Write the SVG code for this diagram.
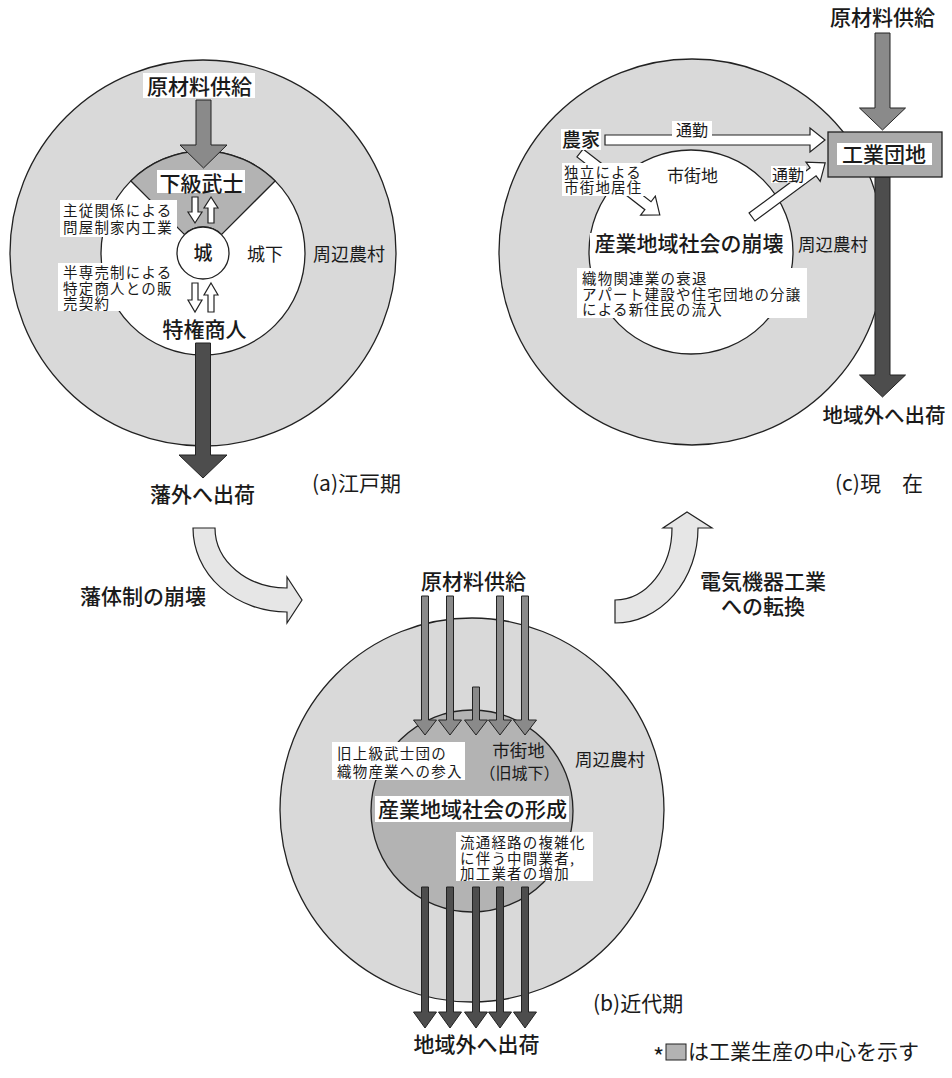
<svg xmlns="http://www.w3.org/2000/svg" width="952" height="1078" viewBox="0 0 952 1078">
<style>
.ring{fill:#d9d9d9;stroke:#222;stroke-width:1.3}
.wc{fill:#fff;stroke:#222;stroke-width:1.3}
.core{fill:#b3b3b3;stroke:#222;stroke-width:1.3}
.in{fill:#8a8a8a;stroke:#222;stroke-width:1}
.out{fill:#4d4d4d;stroke:#222;stroke-width:1}
.hollow{fill:#fff;stroke:#222;stroke-width:1.2}
.curve{fill:#e6e6e6;stroke:#222;stroke-width:1.2}
.bg{fill:#fff}
text{font-family:"Noto Sans CJK JP","Noto Sans",sans-serif;fill:#1a1a1a}
.b{font-weight:500;font-size:21px}
.s{font-size:14.5px;letter-spacing:1.2px}
.m{font-size:18px}
.c{text-anchor:middle}
</style>
<rect width="952" height="1078" fill="#fff"/>

<!-- Panel (a) -->
<g id="a-rural">
  <circle class="ring" cx="203" cy="253" r="193"/>
</g>
<g id="a-town">
  <circle class="wc" cx="203" cy="253" r="102"/>
</g>
<g id="a-samurai">
  <path class="core" d="M184.6,234.6 L130.9,180.9 A102,102 0 0 1 275.1,180.9 L221.4,234.6 A26,26 0 0 0 184.6,234.6 Z"/>
</g>
<g id="a-castle">
  <circle class="wc" cx="203" cy="253" r="26"/>
  <text class="c" x="203" y="260" style="font-size:19px;font-weight:500">城</text>
</g>

<!-- Panel (c) -->
<g id="c-rural">
  <circle class="ring" cx="692" cy="252" r="193"/>
</g>
<g id="c-town">
  <circle class="wc" cx="691" cy="252" r="102"/>
</g>

<!-- Panel (b) -->
<g id="b-rural">
  <circle class="ring" cx="472" cy="810" r="192"/>
</g>
<g id="b-town">
  <circle class="core" cx="472" cy="811" r="101"/>
</g>

<g id="connectors">
  <!-- (a) -->
  <polygon class="in" points="196,100 211,100 211,145 227,145 203.5,168 180,145 196,145"/>
  <polygon class="out" points="195.5,343 210.5,343 210.5,455 227,455 203,478 179,455 195.5,455"/>
  <polygon class="hollow" points="192,197 198,197 198,212 202,212 195,223 188,212 192,212"/>
  <polygon class="hollow" points="211,197 218,208 214,208 214,223 208,223 208,208 204,208"/>
  <polygon class="hollow" points="192,283 198,283 198,300 202,300 195,312 188,300 192,300"/>
  <polygon class="hollow" points="211,283 218,295 214,295 214,312 208,312 208,295 204,295"/>
  <!-- (c) -->
  <polygon class="in" points="875,33 890,33 890,108 905.5,108 882.5,130 859.5,108 875,108"/>
  <polygon class="out" points="875,177 890,177 890,375 905.5,375 882.5,397 859.5,375 875,375"/>
  <polygon class="hollow" points="605,135 810,135 810,128 825,140 810,152 810,145 605,145"/>
  <polygon class="hollow" transform="translate(752,217) rotate(-36.5)" points="0,-5 76,-5 76,-12 91,0 76,12 76,5 0,5"/>
  <polygon class="hollow" transform="translate(580,153) rotate(37.8)" points="0,-5 86,-5 86,-12 101,0 86,12 86,5 0,5"/>
  <!-- (b) inputs -->
  <polygon class="in" points="421.5,596 428.5,596 428.5,720 436.5,720 425,735 413.5,720 421.5,720"/>
  <polygon class="in" points="446.5,596 453.5,596 453.5,720 461.5,720 450,735 438.5,720 446.5,720"/>
  <polygon class="in" points="472.5,687 479.5,687 479.5,720 487.5,720 476,735 464.5,720 472.5,720"/>
  <polygon class="in" points="496.5,596 503.5,596 503.5,720 511.5,720 500,735 488.5,720 496.5,720"/>
  <polygon class="in" points="521.5,596 528.5,596 528.5,720 536.5,720 525,735 513.5,720 521.5,720"/>
  <!-- (b) outputs -->
  <polygon class="out" points="421.5,887 428.5,887 428.5,1012 436.5,1012 425,1028 413.5,1012 421.5,1012"/>
  <polygon class="out" points="446.5,887 453.5,887 453.5,1012 461.5,1012 450,1028 438.5,1012 446.5,1012"/>
  <polygon class="out" points="472.5,887 479.5,887 479.5,1012 487.5,1012 476,1028 464.5,1012 472.5,1012"/>
  <polygon class="out" points="496.5,887 503.5,887 503.5,1012 511.5,1012 500,1028 488.5,1012 496.5,1012"/>
  <polygon class="out" points="521.5,887 528.5,887 528.5,1012 536.5,1012 525,1028 513.5,1012 521.5,1012"/>
  <!-- transitions -->
  <path class="curve" d="M193,528 L215,528 A72,60 0 0 0 287,588 L287,577 L302,600 L287,623 L287,612 A94,84 0 0 1 193,528 Z"/>
  <path class="curve" d="M615,623 L615,600 A57,72 0 0 0 672,528 L663,528 L687,512 L712,528 L698,528 A83,95 0 0 1 615,623 Z"/>
</g>

<!-- (a) labels -->
<g id="a-supply">
  <rect class="bg" x="143" y="73" width="112" height="25"/>
  <text class="b c" x="199.5" y="93.5">原材料供給</text>
</g>
<g id="a-samurai-label">
  <rect class="bg" x="157" y="170" width="88" height="23"/>
  <text class="b c" x="201.5" y="190.5">下級武士</text>
</g>
<g id="a-note1">
  <rect class="bg" x="60" y="200" width="117" height="37"/>
  <text class="s"><tspan x="63" y="216">主従関係による</tspan><tspan x="63" y="233">問屋制家内工業</tspan></text>
</g>
<g id="a-note2">
  <rect class="bg" x="58" y="263" width="117" height="48"/>
  <text class="s"><tspan x="63" y="278">半専売制による</tspan><tspan x="63" y="294">特定商人との販</tspan><tspan x="63" y="309">売契約</tspan></text>
</g>
<g id="a-town-label"><text class="m" x="247" y="261">城下</text></g>
<g id="a-rural-label"><text class="m" x="313" y="261">周辺農村</text></g>
<g id="a-merchant"><text class="b c" x="204.5" y="336.5">特権商人</text></g>
<g id="a-ship"><text class="b c" x="202.5" y="502">藩外へ出荷</text></g>
<g id="a-title"><text x="312" y="491" style="font-size:21px">(a)江戸期</text></g>
<g id="t1-label"><text x="80" y="604" style="font-size:21px;font-weight:500">藩体制の崩壊</text></g>

<!-- (c) labels -->
<g id="c-supply"><text class="b c" x="882.5" y="24.5">原材料供給</text></g>
<g id="c-estate">
  <rect x="828" y="132" width="114" height="45" fill="#aaa" stroke="#222" stroke-width="1.3"/>
  <rect class="bg" x="837" y="143" width="95" height="22"/>
  <text class="b c" x="884" y="162">工業団地</text>
</g>
<g id="c-farm">
  <rect class="bg" x="561" y="129" width="40" height="21"/>
  <text class="c" x="581" y="147" style="font-size:19px;font-weight:500">農家</text>
</g>
<g id="c-commute1">
  <rect class="bg" x="672" y="121" width="40" height="15.5"/>
  <text class="c" x="692" y="136" style="font-size:16px">通勤</text>
</g>
<g id="c-commute2">
  <rect class="bg" x="771" y="166" width="35" height="17"/>
  <text class="c" x="788" y="181" style="font-size:16px">通勤</text>
</g>
<g id="c-move">
  <rect class="bg" x="562" y="163" width="83" height="33"/>
  <text class="s"><tspan x="564" y="178">独立による</tspan><tspan x="564" y="193">市街地居住</tspan></text>
</g>
<g id="c-town-label"><text x="667" y="181.5" style="font-size:17px">市街地</text></g>
<g id="c-collapse">
  <rect class="bg" x="590" y="233" width="198" height="22"/>
  <text class="b c" x="689" y="251">産業地域社会の崩壊</text>
</g>
<g id="c-rural-label"><text x="798" y="251" style="font-size:17.5px">周辺農村</text></g>
<g id="c-note">
  <rect class="bg" x="577" y="268" width="230" height="50"/>
  <text class="s"><tspan x="582" y="284">織物関連業の衰退</tspan><tspan x="582" y="300">アパート建設や住宅団地の分譲</tspan><tspan x="582" y="315">による新住民の流入</tspan></text>
</g>
<g id="c-ship"><text class="c" x="884" y="423" style="font-size:20.5px;font-weight:500">地域外へ出荷</text></g>
<g id="c-title"><text x="835" y="491" style="font-size:21px" xml:space="preserve">(c)現　在</text></g>
<g id="t2-label">
  <text class="c" style="font-size:21px;font-weight:500"><tspan x="763" y="589">電気機器工業</tspan><tspan x="763" y="614">への転換</tspan></text>
</g>

<!-- (b) labels -->
<g id="b-supply"><text class="b c" x="473.5" y="589">原材料供給</text></g>
<g id="b-note1">
  <rect class="bg" x="332" y="742" width="133" height="38"/>
  <text class="s"><tspan x="337" y="759">旧上級武士団の</tspan><tspan x="337" y="777">織物産業への参入</tspan></text>
</g>
<g id="b-town-label">
  <text class="c"><tspan x="518.5" y="757" style="font-size:17.5px">市街地</tspan><tspan x="519.5" y="779" style="font-size:16px">（旧城下）</tspan></text>
</g>
<g id="b-rural-label"><text x="575" y="766" style="font-size:17.5px">周辺農村</text></g>
<g id="b-form">
  <rect class="bg" x="375" y="796" width="194" height="26"/>
  <text class="b c" x="472.5" y="817">産業地域社会の形成</text>
</g>
<g id="b-note2">
  <rect class="bg" x="456" y="832" width="137" height="49"/>
  <text class="s"><tspan x="460" y="848">流通経路の複雑化</tspan><tspan x="460" y="864">に伴う中間業者,</tspan><tspan x="460" y="879">加工業者の増加</tspan></text>
</g>
<g id="b-ship"><text class="b c" x="476.5" y="1052">地域外へ出荷</text></g>
<g id="b-title"><text x="593" y="1011" style="font-size:21px">(b)近代期</text></g>

<!-- legend -->
<g id="legend">
  <text x="653" y="1066" style="font-size:24px">*</text>
  <rect x="666" y="1044" width="20" height="16" fill="#b3b3b3" stroke="#222" stroke-width="1"/>
  <text x="688" y="1059" style="font-size:21px">は工業生産の中心を示す</text>
</g>
</svg>
